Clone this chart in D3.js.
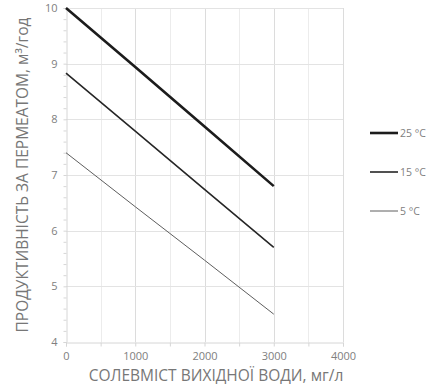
<!DOCTYPE html>
<html>
<head>
<meta charset="utf-8">
<script src="https://cdn.jsdelivr.net/npm/d3@7"></script>
<style>
  body { margin: 0; background: #fff; }
  text { font-family: "Open Sans", "Noto Sans", sans-serif; }
</style>
</head>
<body>
<div id="chart"></div>
<script>
// Data.
const salinity = [0, 1000, 2000, 3000];
const temps = ['25 °C', '15 °C', '5 °C'];
const flow25 = [10, 8.94, 7.87, 6.8];
const flow15 = [8.83, 7.79, 6.74, 5.7];
const flow5 = [7.4, 6.43, 5.47, 4.5];
const xTicks = [0, 1000, 2000, 3000, 4000];
const yTicks = [4, 5, 6, 7, 8, 9, 10];

const width = 432;
const height = 388;
const margin = { left: 66, right: 89, top: 8, bottom: 46 };

const series = [
  { name: temps[0], values: flow25, width: 2.6, color: '#1c1c1c' },
  { name: temps[1], values: flow15, width: 1.6, color: '#262626' },
  { name: temps[2], values: flow5, width: 1, color: '#5e5e5e' }
];

const svg = d3.select('#chart')
  .append('svg')
  .attr('width', width)
  .attr('height', height);

const x = d3.scaleLinear().domain([0, 4000]).range([margin.left, width - margin.right]);
const y = d3.scaleLinear().domain([4, 10]).range([height - margin.bottom, margin.top]);

// Gridlines every 500 (x) and every 1 (y).
const grid = svg.append('g').attr('stroke', '#e3e3e3').attr('stroke-width', 1);
grid.selectAll('.vg')
  .data(d3.range(500, 4001, 500))
  .join('line')
  .attr('x1', d => Math.round(x(d)) + 0.5)
  .attr('x2', d => Math.round(x(d)) + 0.5)
  .attr('y1', y(4))
  .attr('y2', y(10))
  .attr('stroke', d => d % 1000 === 0 ? '#dcdcdc' : '#ececec');
grid.selectAll('.hg')
  .data(yTicks.slice(1))
  .join('line')
  .attr('x1', x(0))
  .attr('x2', x(4000))
  .attr('y1', d => Math.round(y(d)) + 0.5)
  .attr('y2', d => Math.round(y(d)) + 0.5);

// Axes, with minor ticks.
const isMajorY = d => Math.abs(d - Math.round(d)) < 0.01;
const xAxis = svg.append('g')
  .attr('transform', `translate(0,${Math.round(y(4)) + 0.5})`)
  .call(d3.axisBottom(x).tickValues(d3.range(0, 4001, 500)).tickSize(4).tickFormat(d => xTicks.includes(d) ? d : ''));
const yAxis = svg.append('g')
  .attr('transform', `translate(${Math.round(x(0)) + 0.5},0)`)
  .call(d3.axisLeft(y).tickValues(d3.range(4, 10.01, 0.2)).tickSize(3).tickFormat(d => isMajorY(d) ? d3.format('d')(Math.round(d)) : ''));

[xAxis, yAxis].forEach(axis => {
  axis.select('.domain').attr('stroke', '#d6d6d6');
  axis.selectAll('.tick line').attr('stroke', '#d6d6d6');
  axis.selectAll('.tick text').attr('fill', '#808080').style('font-size', '11px');
});
xAxis.selectAll('.tick text').attr('y', 10);
yAxis.selectAll('.tick text').attr('x', -9);

// Lines.
const line = d3.line().x((d, i) => x(salinity[i])).y(d => y(d));
svg.append('g')
  .selectAll('path')
  .data(series)
  .join('path')
  .attr('d', d => line(d.values))
  .attr('fill', 'none')
  .attr('stroke', d => d.color)
  .attr('stroke-width', d => d.width);

// Legend.
const legend = svg.append('g')
  .selectAll('g')
  .data(series)
  .join('g')
  .attr('transform', (d, i) => `translate(370,${133 + i * 39})`);
legend.append('line')
  .attr('x1', 0).attr('x2', 28)
  .attr('stroke', d => d.color)
  .attr('stroke-width', d => d.width);
legend.append('text')
  .attr('x', 30)
  .attr('dy', '0.35em')
  .attr('fill', '#808080')
  .style('font-size', '10.5px')
  .text(d => d.name);

// Axis titles.
svg.append('text')
  .attr('x', 216)
  .attr('y', 381)
  .attr('text-anchor', 'middle')
  .attr('fill', '#777')
  .style('font-size', '15.5px')
  .text('СОЛЕВМІСТ ВИХІДНОЇ ВОДИ, мг/л');

svg.append('text')
  .attr('transform', `translate(28,175) rotate(-90)`)
  .attr('text-anchor', 'middle')
  .attr('fill', '#777')
  .style('font-size', '15.5px')
  .text('ПРОДУКТИВНІСТЬ ЗА ПЕРМЕАТОМ, м³/год');
</script>
</body>
</html>
